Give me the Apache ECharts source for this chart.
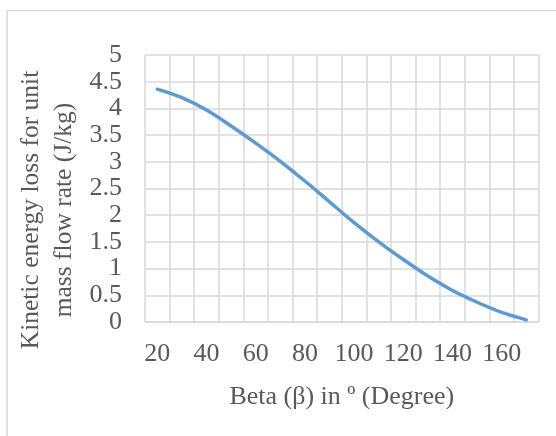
<!DOCTYPE html>
<html>
<head>
<meta charset="utf-8">
<script src="https://cdn.jsdelivr.net/npm/echarts@6/dist/echarts.min.js"></script>
<style>
html,body{margin:0;padding:0;background:#fff;}
#c{width:556px;height:436px;}
</style>
</head>
<body>
<div id="c"></div>
<script>
var categories = ['20','30','40','50','60','70','80','90','100','110','120','130','140','150','160','170'];
var kineticLoss = [4.36,4.20,3.97,3.67,3.35,3.01,2.64,2.25,1.86,1.50,1.17,0.86,0.59,0.37,0.18,0.04];
var yTitle = 'Kinetic energy loss for unit\nmass flow rate (J/kg)';
var xTitle = 'Beta (\u03B2) in \u00BA (Degree)';

var FONT = '"Liberation Serif", "Times New Roman", serif';
var TXT = '#595959';
var GRID = '#d9d9d9';

var chart = echarts.init(document.getElementById('c'), null, {renderer:'canvas'});
chart.setOption({
  animation:false,
  backgroundColor:'#fff',
  grid:{left:145, top:55, right:17.4, bottom:114, containLabel:false},
  xAxis:{
    type:'category',
    data:categories,
    boundaryGap:true,
    name:xTitle,
    nameLocation:'middle',
    nameGap:62,
    nameTextStyle:{fontFamily:FONT, fontSize:26, color:TXT},
    axisLine:{show:true, lineStyle:{color:GRID, width:1.5}},
    axisTick:{show:false},
    axisLabel:{interval:1, margin:19, fontFamily:FONT, fontSize:26, color:TXT},
    splitLine:{show:true, interval:0, lineStyle:{color:GRID, width:1.5}}
  },
  yAxis:{
    type:'value',
    min:0, max:5, interval:0.5,
    axisLine:{show:false},
    axisTick:{show:false},
    axisLabel:{margin:23, fontFamily:FONT, fontSize:26, color:TXT},
    splitLine:{show:true, lineStyle:{color:GRID, width:1.5}}
  },
  graphic:[
    {type:'line', shape:{x1:7, y1:10.5, x2:556, y2:10.5}, style:{stroke:GRID, lineWidth:1.5}, silent:true},
    {type:'line', shape:{x1:7, y1:10.5, x2:7, y2:436}, style:{stroke:GRID, lineWidth:1.5}, silent:true},
    {type:'text', x:48, y:210, rotation:Math.PI/2,
     style:{text:yTitle, font:'25.5px "Liberation Serif", serif', fill:TXT, align:'center', verticalAlign:'middle', lineHeight:33}}
  ],
  series:[{
    type:'line',
    data:kineticLoss,
    smooth:0.35,
    symbol:'none',
    lineStyle:{color:'#5b9bd5', width:3.5, cap:'round'}
  }]
});
</script>
</body>
</html>
